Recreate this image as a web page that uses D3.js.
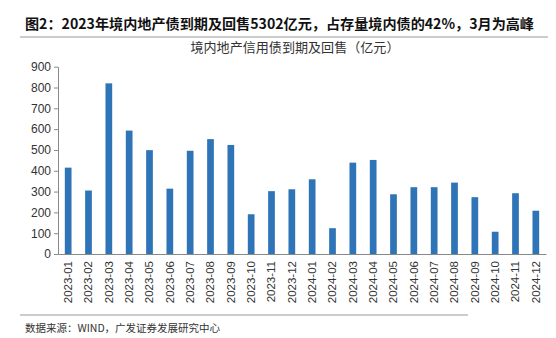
<!DOCTYPE html>
<html><head><meta charset="utf-8">
<script src="https://cdn.jsdelivr.net/npm/d3@7"></script>
<style>body{margin:0;background:#fff}svg{display:block}</style>
</head><body>
<script>
const categories = ["2023-01","2023-02","2023-03","2023-04","2023-05","2023-06","2023-07","2023-08","2023-09","2023-10","2023-11","2023-12","2024-01","2024-02","2024-03","2024-04","2024-05","2024-06","2024-07","2024-08","2024-09","2024-10","2024-11","2024-12"];
const values = [415,305,820,593,499,314,496,552,524,191,302,311,359,124,439,452,287,321,321,343,273,107,292,208];
const yTicks = [0,100,200,300,400,500,600,700,800,900];
const titleText = "图2：2023年境内地产债到期及回售5302亿元，占存量境内债的42%，3月为高峰";
const subtitleText = "境内地产信用债到期及回售（亿元）";
const sourceText = "数据来源：WIND，广发证券发展研究中心";

(function () {
const W = 556, H = 338;
const svg = d3.select("body").append("svg").attr("width", W).attr("height", H);
const mLeft = 58, mRight = 546, mTop = 66.7, mBottom = 254;
const x = d3.scaleBand().domain(categories).range([mLeft, mRight]).paddingInner(0.67).paddingOuter(0.335);
const y = d3.scaleLinear().domain([0, 900]).range([mBottom, mTop]);

svg.append("text").attr("x", 25).attr("y", 28.5).attr("font-family", "Noto Sans CJK SC").attr("font-weight", "bold")
  .attr("font-size", 14).attr("fill", "#111").attr("textLength", 509).attr("lengthAdjust", "spacingAndGlyphs").text(titleText);
svg.append("line").attr("x1", 20).attr("x2", 548).attr("y1", 37).attr("y2", 37).attr("stroke", "#999").attr("stroke-width", 1.2);
svg.append("text").attr("x", 295).attr("y", 52).attr("text-anchor", "middle").attr("font-family", "Noto Sans CJK SC")
  .attr("font-size", 13).attr("fill", "#333").attr("textLength", 209).attr("lengthAdjust", "spacingAndGlyphs").text(subtitleText);

svg.selectAll("rect.bar").data(values).enter().append("rect").attr("class", "bar")
  .attr("x", (d, i) => x(categories[i])).attr("width", x.bandwidth())
  .attr("y", d => y(d)).attr("height", d => y(0) - y(d)).attr("fill", "#2E74B7");

const ya = svg.append("g").attr("transform", `translate(${mLeft},0)`)
  .call(d3.axisLeft(y).tickValues(yTicks).tickSize(4).tickSizeOuter(0));
ya.select(".domain").attr("stroke", "#888");
ya.selectAll(".tick line").attr("stroke", "#888");
ya.selectAll(".tick text").attr("font-family", "Liberation Sans, Arial").attr("font-size", 12).attr("fill", "#333");

const xa = svg.append("g").attr("transform", `translate(0,${mBottom})`)
  .call(d3.axisBottom(x).tickSize(0).tickSizeOuter(0));
xa.select(".domain").attr("stroke", "#888");
xa.selectAll(".tick text").attr("font-family", "Liberation Sans, Arial").attr("font-size", 11.5).attr("fill", "#333")
  .attr("transform", "rotate(-90)").attr("text-anchor", "end").attr("dx", "-7").attr("dy", "0.32em").attr("y", 0).attr("x", 0);

svg.append("line").attr("x1", 20).attr("x2", 468).attr("y1", 315).attr("y2", 315).attr("stroke", "#999");
svg.append("text").attr("x", 25).attr("y", 332).attr("font-family", "Noto Sans CJK SC").attr("font-size", 10.5)
  .attr("fill", "#333").text(sourceText);
})();
</script>
</body></html>
